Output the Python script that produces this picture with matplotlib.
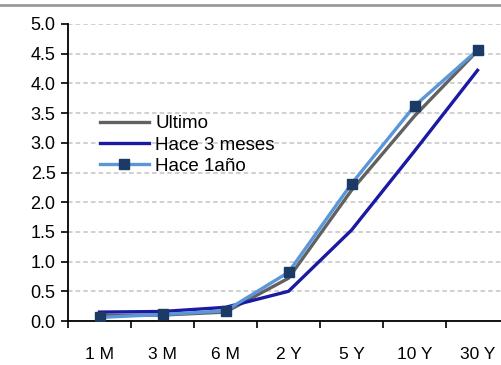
import numpy as np
import matplotlib
matplotlib.use("Agg")
import matplotlib.pyplot as plt
from matplotlib.lines import Line2D

plt.rcParams['font.family'] = ['Liberation Sans', 'DejaVu Sans']

# curva de tasas por plazo
plazos = ['1 M', '3 M', '6 M', '2 Y', '5 Y', '10 Y', '30 Y']
ultimo = [0.09, 0.10, 0.15, 0.72, 2.20, 3.45, 4.55]
hace_3m = [0.15, 0.16, 0.23, 0.50, 1.53, 2.86, 4.22]
hace_1a = [0.06, 0.11, 0.17, 0.82, 2.31, 3.62, 4.56]

fig = plt.figure(figsize=(5.01, 3.65), dpi=100)
ax = fig.add_axes([68/501, 1-321/365, 441/501, (321-24)/365])

x = np.arange(len(plazos))
ax.plot(x, ultimo, color='#616161', lw=2.4, label='Ultimo', zorder=3)
ax.plot(x, hace_3m, color='#1a1aa2', lw=2.4, label='Hace 3 meses', zorder=3)
ax.plot(x, hace_1a, color='#5b96d8', lw=2.4, marker='s', ms=7.5,
        mfc='#1b3a66', mec='#1b3a66', label='Hace 1año', zorder=4)

ax.set_xlim(-0.5, len(plazos) - 0.5)
ax.set_ylim(0, 5.0)
ax.set_yticks(np.arange(0, 5.01, 0.5))
ax.set_yticklabels(['%.1f' % v for v in np.arange(0, 5.01, 0.5)])
ax.set_xticks(x)
ax.set_xticklabels(plazos)
ax.set_xticks(np.arange(-0.5, len(plazos), 1.0), minor=True)

ax.tick_params(axis='x', which='major', length=0, pad=19, labelsize=12.5)
ax.tick_params(axis='x', which='minor', length=5, width=1.2, direction='out')
ax.tick_params(axis='y', length=5, width=1.2, direction='out', pad=4, labelsize=13)

for s in ['top', 'right']:
    ax.spines[s].set_visible(False)
for s in ['left', 'bottom']:
    ax.spines[s].set_linewidth(1.3)
    ax.spines[s].set_color('black')

ax.yaxis.grid(True, color='#c4c4c4', ls=(0, (3, 2)), lw=1.1)
ax.set_axisbelow(True)

ax.legend(loc='upper left', bbox_to_anchor=(100/501, 1-115/365),
          bbox_transform=fig.transFigure, frameon=False, fontsize=13.5,
          handlelength=2.6, handletextpad=0.35, labelspacing=0.23,
          borderaxespad=0, borderpad=0)

# linea gris del encabezado
fig.add_artist(Line2D([0, 1], [1-4.5/365, 1-4.5/365], color='#999999', lw=2,
                      transform=fig.transFigure))

fig.savefig('out.png', dpi=100)
